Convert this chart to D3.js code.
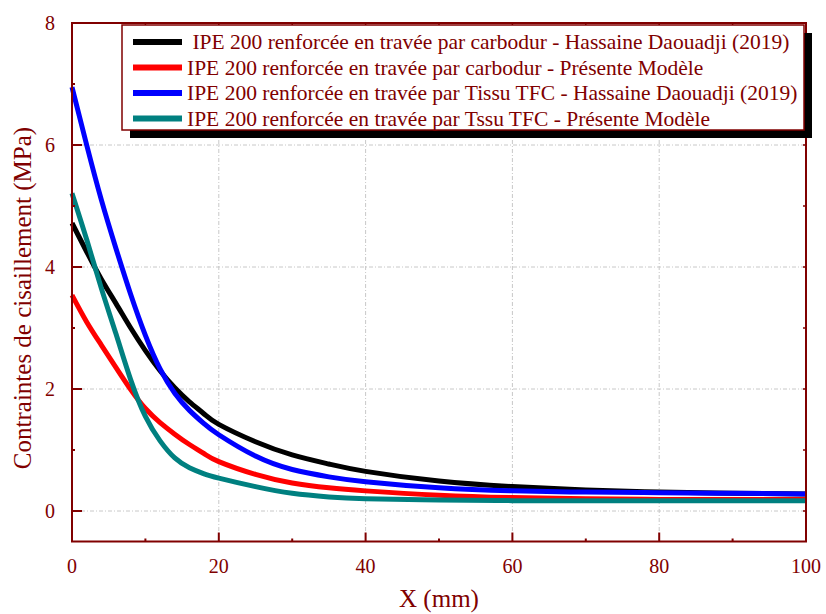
<!DOCTYPE html>
<html>
<head>
<meta charset="utf-8">
<script src="https://cdn.jsdelivr.net/npm/d3@7"></script>
<style>
  body { margin: 0; background: #fff; }
  text { font-family: 'Liberation Serif', 'Times New Roman', serif; fill: #800000; }
</style>
</head>
<body>
<div id="chart"></div>
<script>
const xValues = [0, 2, 4, 6, 8, 10, 12, 14, 16, 18, 20, 25, 30, 35, 40, 50, 60, 70, 80, 90, 100]
const carbodurHassaine = [4.72, 4.25, 3.8, 3.4, 3.0, 2.63, 2.3, 2.02, 1.79, 1.59, 1.42, 1.135, 0.92, 0.77, 0.65, 0.49, 0.4, 0.345, 0.31, 0.29, 0.28]
const carbodurModele = [3.54, 3.1, 2.72, 2.35, 1.99, 1.68, 1.45, 1.26, 1.09, 0.94, 0.81, 0.6, 0.46, 0.38, 0.33, 0.26, 0.22, 0.2, 0.19, 0.19, 0.19]
const tissuHassaine = [6.95, 6.0, 5.1, 4.3, 3.55, 2.88, 2.33, 1.93, 1.65, 1.43, 1.25, 0.9, 0.68, 0.56, 0.48, 0.38, 0.33, 0.31, 0.3, 0.29, 0.28]
const tissuModele = [5.21, 4.45, 3.65, 2.9, 2.15, 1.55, 1.15, 0.87, 0.71, 0.61, 0.54, 0.4, 0.29, 0.23, 0.2, 0.18, 0.17, 0.17, 0.17, 0.17, 0.17]

const seriesNames = [
  ' IPE 200 renforcée en travée par carbodur - Hassaine Daouadji (2019)',
  'IPE 200 renforcée en travée par carbodur - Présente Modèle',
  'IPE 200 renforcée en travée par Tissu TFC - Hassaine Daouadji (2019)',
  'IPE 200 renforcée en travée par Tssu TFC - Présente Modèle'
]
const seriesColors = ['#000000', '#ff0000', '#0000ff', '#008080']
const xTicks = [0, 20, 40, 60, 80, 100]
const yTicks = [0, 2, 4, 6, 8]

const axisColor = '#800000'
const width = 826
const height = 614
const margin = { top: 23, right: 20, bottom: 72, left: 72 }

const series = [carbodurHassaine, carbodurModele, tissuHassaine, tissuModele].map((vals, i) => ({
  name: seriesNames[i],
  color: seriesColors[i],
  values: vals.map((v, j) => ({ x: xValues[j], y: v }))
}))

const svg = d3.select('#chart').append('svg')
  .attr('width', width)
  .attr('height', height)

const x = d3.scaleLinear().domain([0, 100]).range([margin.left, width - margin.right])
const y = d3.scaleLinear().domain([-0.5, 8]).range([541.5, margin.top])

const x0 = x.range()[0], x1 = x.range()[1]
const yTop = y(8), yBot = y(-0.5)

// grid
const grid = svg.append('g').attr('stroke', '#c8c8c8').attr('stroke-width', 1).attr('stroke-dasharray', '4,2,1,2')
grid.selectAll('.gx').data(xTicks.slice(1, -1)).enter().append('line')
  .attr('x1', d => x(d)).attr('x2', d => x(d)).attr('y1', yTop).attr('y2', yBot)
grid.selectAll('.gy').data(yTicks.slice(0, -1)).enter().append('line')
  .attr('x1', x0).attr('x2', x1).attr('y1', d => y(d)).attr('y2', d => y(d))

// curves
const line = d3.line().x(d => x(d.x)).y(d => y(d.y)).curve(d3.curveNatural)
svg.append('g').selectAll('path').data(series).enter().append('path')
  .attr('d', d => line(d.values))
  .attr('fill', 'none')
  .attr('stroke', d => d.color)
  .attr('stroke-width', 5)
  .attr('stroke-linejoin', 'round')

// frame + ticks
const frame = svg.append('g').attr('stroke', axisColor)
frame.append('rect')
  .attr('x', x0).attr('y', yTop).attr('width', x1 - x0).attr('height', yBot - yTop)
  .attr('fill', 'none').attr('stroke-width', 2)

const minorX = d3.range(10, 100, 10)
frame.selectAll('.mxb').data(minorX).enter().append('line')
  .attr('x1', d => x(d)).attr('x2', d => x(d))
  .attr('y1', yBot).attr('y2', d => yBot - (d % 20 === 0 ? 9 : 3))
  .attr('stroke-width', 2)
frame.selectAll('.mxt').data(minorX).enter().append('line')
  .attr('x1', d => x(d)).attr('x2', d => x(d))
  .attr('y1', yTop).attr('y2', yTop + 3)
  .attr('stroke-width', 1.5)

const minorY = d3.range(0, 8, 1)
frame.selectAll('.myl').data(minorY).enter().append('line')
  .attr('x1', x0).attr('x2', d => x0 + (d % 2 === 0 ? 10 : 3))
  .attr('y1', d => y(d)).attr('y2', d => y(d))
  .attr('stroke-width', 2)
frame.selectAll('.myr').data(minorY).enter().append('line')
  .attr('x1', x1).attr('x2', x1 - 3)
  .attr('y1', d => y(d)).attr('y2', d => y(d))
  .attr('stroke-width', 1.5)

// tick labels
svg.append('g').selectAll('text').data(xTicks).enter().append('text')
  .attr('x', d => x(d)).attr('y', yBot + 31)
  .attr('text-anchor', 'middle').attr('font-size', 20)
  .text(d => d)
svg.append('g').selectAll('text').data(yTicks).enter().append('text')
  .attr('x', x0 - 17).attr('y', d => y(d) + 7)
  .attr('text-anchor', 'end').attr('font-size', 20)
  .text(d => d)

// axis titles
svg.append('text')
  .attr('x', (x0 + x1) / 2).attr('y', 607)
  .attr('text-anchor', 'middle').attr('font-size', 25)
  .text('X (mm)')
svg.append('text')
  .attr('transform', 'translate(31,298) rotate(-90)')
  .attr('text-anchor', 'middle').attr('font-size', 25)
  .text('Contraintes de cisaillement (MPa)')

// legend
const lg = { x: 122, y: 25, w: 682, h: 105 }
svg.append('rect')
  .attr('x', lg.x + 8).attr('y', lg.y + 8).attr('width', lg.w).attr('height', lg.h)
  .attr('fill', '#000')
svg.append('rect')
  .attr('x', lg.x).attr('y', lg.y).attr('width', lg.w).attr('height', lg.h)
  .attr('fill', '#fff').attr('stroke', axisColor).attr('stroke-width', 1.5)

const rows = svg.append('g').selectAll('g').data(series).enter().append('g')
  .attr('transform', (d, i) => 'translate(0,' + (42 + i * 25.5) + ')')
rows.append('line')
  .attr('x1', 133).attr('x2', 182)
  .attr('stroke', d => d.color).attr('stroke-width', 6)
rows.append('text')
  .attr('x', 187).attr('y', 7)
  .attr('font-size', 21.5)
  .attr('xml:space', 'preserve')
  .style('white-space', 'pre')
  .text(d => d.name)
</script>
</body>
</html>
